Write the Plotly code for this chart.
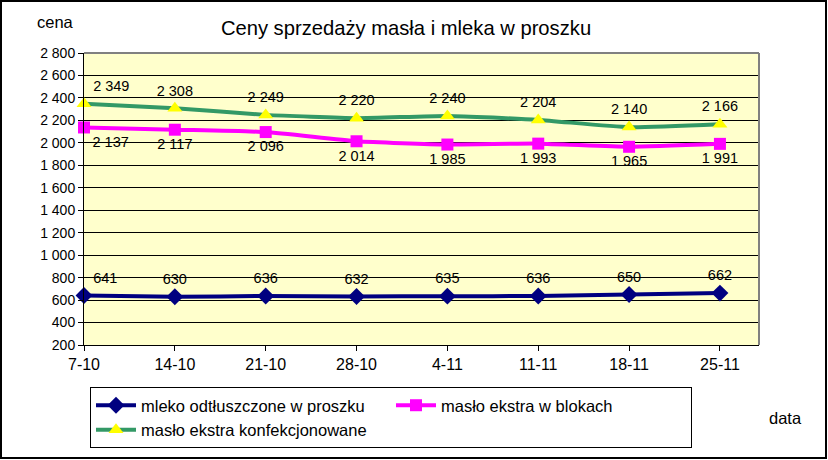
import plotly.graph_objects as go

# ---- data ----
dates = ["7-10", "14-10", "21-10", "28-10", "4-11", "11-11", "18-11", "25-11"]
mleko_odtl = [641, 630, 636, 632, 635, 636, 650, 662]
maslo_bloki = [2137, 2117, 2096, 2014, 1985, 1993, 1965, 1991]
maslo_konf = [2349, 2308, 2249, 2220, 2240, 2204, 2140, 2166]
y_ticks = list(range(200, 2801, 200))

W, H = 828, 460
ML, MR, MT, MB = 84, 69, 53, 115
PW, PH = W - ML - MR, H - MT - MB
FONT = "Liberation Sans, Arial, sans-serif"


def px_x(p):
    return (p - ML) / PW


def px_y(p):
    return (H - MB - p) / PH


fig = go.Figure()

fig.add_trace(go.Scatter(
    x=dates, y=mleko_odtl, name="mleko odtłuszczone w proszku",
    mode="lines+markers+text", line=dict(color="#000080", width=4, shape="spline", smoothing=0.5),
    marker=dict(symbol="diamond", size=13, color="#000080"),
    texttemplate="%{y:,}", textfont=dict(family=FONT, size=14.5, color="black"),
    textposition=["top right"] + ["top center"] * 7, cliponaxis=False,
))
fig.add_trace(go.Scatter(
    x=dates, y=maslo_bloki, name="masło ekstra w blokach",
    mode="lines+markers+text", line=dict(color="#FF00FF", width=4, shape="spline", smoothing=0.5),
    marker=dict(symbol="square", size=12, color="#FF00FF"),
    texttemplate="%{y:,}", textfont=dict(family=FONT, size=14.5, color="black"),
    textposition=["bottom right"] + ["bottom center"] * 7, cliponaxis=False,
))
fig.add_trace(go.Scatter(
    x=dates, y=maslo_konf, name="masło ekstra konfekcjonowane",
    mode="lines+markers+text", line=dict(color="#339966", width=4, shape="spline", smoothing=0.5),
    marker=dict(symbol="triangle-up", size=13, color="#FFFF00"),
    texttemplate="%{y:,}", textfont=dict(family=FONT, size=14.5, color="black"),
    textposition=["top right"] + ["top center"] * 7, cliponaxis=False,
))

fig.update_layout(
    width=W, height=H,
    margin=dict(l=ML, r=MR, t=MT, b=MB, pad=0),
    paper_bgcolor="white", plot_bgcolor="#FFFFCC",
    separators=", ",
    font=dict(family=FONT, color="black"),
    title=dict(text="Ceny sprzedaży masła i mleka w proszku", x=406 / W, xanchor="center",
               y=1 - 28 / H, yanchor="middle", font=dict(family=FONT, size=20.2, color="black")),
    showlegend=True,
    legend=dict(orientation="h", x=px_x(90), y=px_y(387), xanchor="left", yanchor="top",
                bgcolor="white", bordercolor="black", borderwidth=1,
                font=dict(family=FONT, size=16.5, color="black"),
                entrywidth=245, entrywidthmode="pixels", itemwidth=40),
    xaxis=dict(type="category", range=[0, 7.43], showgrid=False, showline=True, linecolor="black",
               linewidth=1, ticks="outside", ticklen=5, tickcolor="black",
               tickfont=dict(family=FONT, size=16, color="black"), zeroline=False, fixedrange=True),
    yaxis=dict(range=[200, 2800], tickvals=y_ticks, tickformat=",d", showgrid=True, gridcolor="black",
               gridwidth=1, showline=True, linecolor="black", linewidth=1, ticks="outside",
               ticklen=5, tickcolor="black", tickfont=dict(family=FONT, size=14, color="black"),
               zeroline=False),
    annotations=[
        dict(text="cena", x=px_x(55), y=px_y(22), xref="paper", yref="paper", showarrow=False,
             xanchor="center", yanchor="middle", font=dict(family=FONT, size=16.5, color="black")),
        dict(text="data", x=px_x(785), y=px_y(418), xref="paper", yref="paper", showarrow=False,
             xanchor="center", yanchor="middle", font=dict(family=FONT, size=16.5, color="black")),
    ],
    shapes=[
        dict(type="line", xref="paper", yref="paper", x0=0, x1=1, y0=1, y1=1,
             line=dict(color="#808080", width=2), layer="above"),
        dict(type="line", xref="paper", yref="paper", x0=1, x1=1, y0=0, y1=1,
             line=dict(color="#808080", width=2), layer="above"),
        dict(type="rect", xref="paper", yref="paper", x0=px_x(1), x1=px_x(826), y0=px_y(458), y1=px_y(1),
             line=dict(color="black", width=2), fillcolor="rgba(0,0,0,0)", layer="above"),
    ],
)

fig.write_html("out.html")
